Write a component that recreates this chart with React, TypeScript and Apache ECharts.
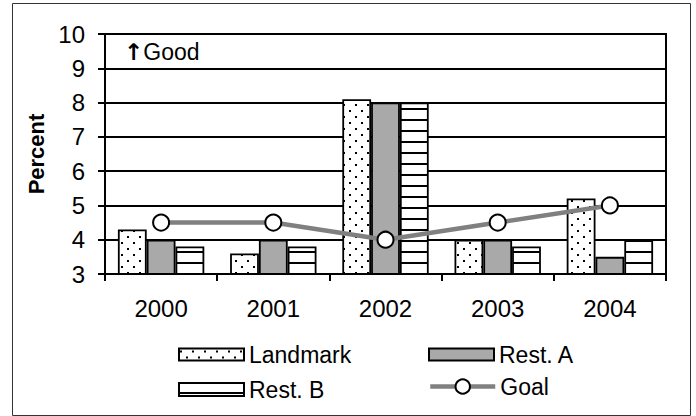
import React, { useEffect, useRef } from "react";
import * as echarts from "echarts";

const categories = ["2000", "2001", "2002", "2003", "2004"];
const landmark = [4.3, 3.6, 8.1, 4.0, 5.2];
const restA = [4.0, 4.0, 8.0, 4.0, 3.5];
const restB = [3.8, 3.8, 8.0, 3.8, 4.0];
const goal = [4.5, 4.5, 4.0, 4.5, 5.0];

const FONT = "'Liberation Sans', Arial, sans-serif";

function dotTile(): HTMLCanvasElement {
  const c = document.createElement("canvas");
  c.width = 12;
  c.height = 12;
  const g = c.getContext("2d")!;
  g.fillStyle = "#fff";
  g.fillRect(0, 0, 12, 12);
  g.fillStyle = "#000";
  g.fillRect(1, 2, 2, 2);
  g.fillRect(7, 8, 2, 2);
  return c;
}

function lineTile(): HTMLCanvasElement {
  const c = document.createElement("canvas");
  c.width = 4;
  c.height = 11;
  const g = c.getContext("2d")!;
  g.fillStyle = "#fff";
  g.fillRect(0, 0, 4, 11);
  g.fillStyle = "#000";
  g.fillRect(0, 9, 4, 2);
  return c;
}

export default function App() {
  const ref = useRef<HTMLDivElement>(null);
  useEffect(() => {
    if (!ref.current) return;
    const chart = echarts.init(ref.current, null, { renderer: "svg" });
    const dots = { image: dotTile(), repeat: "repeat" } as any;
    const lines = { image: lineTile(), repeat: "repeat" } as any;
    const legendBase = {
      itemWidth: 65,
      itemHeight: 12,
      itemGap: 5,
      icon: "rect",
      textStyle: { fontFamily: FONT, fontSize: 23, color: "#000" },
      padding: 0,
      selectedMode: false,
    };
    chart.setOption({
      animation: false,
      backgroundColor: "#fff",
      grid: { left: 105, right: 30, top: 34, bottom: 142, show: true, borderColor: "#000", borderWidth: 2, outerBoundsMode: "none" } as any,
      xAxis: {
        type: "category",
        data: categories,
        axisLine: { lineStyle: { color: "#000", width: 2 } },
        axisTick: { show: true, length: 7, interval: 0, lineStyle: { color: "#000", width: 2 } },
        axisLabel: { fontFamily: FONT, fontSize: 24, color: "#000", margin: 22 },
      },
      yAxis: {
        type: "value",
        min: 3,
        max: 10,
        interval: 1,
        name: "Percent",
        nameLocation: "middle",
        nameGap: 55,
        nameTextStyle: { fontFamily: FONT, fontSize: 22, fontWeight: "bold", color: "#000" },
        axisLine: { show: true, lineStyle: { color: "#000", width: 2 } },
        axisTick: { show: true, length: 7, lineStyle: { color: "#000", width: 2 } },
        axisLabel: { fontFamily: FONT, fontSize: 24, color: "#000", margin: 20 },
        splitLine: { lineStyle: { color: "#000", width: 2 } },
      },
      legend: [
        { ...legendBase, left: 178, top: 343, data: ["Landmark"] },
        { ...legendBase, left: 428, top: 343, data: ["Rest. A"] },
        { ...legendBase, left: 178, top: 378, itemHeight: 13, data: ["Rest. B"] },
        {
          ...legendBase,
          icon: undefined,
          left: 428,
          top: 375,
          itemHeight: 18,
          data: ["Goal"],
          lineStyle: { width: 4.5, color: "#808080" },
        },
      ],
      series: [
        {
          name: "Landmark",
          type: "bar",
          data: landmark,
          barGap: "0%",
          barCategoryGap: "23%",
          itemStyle: { color: dots, borderColor: "#000", borderWidth: 1.8 },
        },
        {
          name: "Rest. A",
          type: "bar",
          data: restA,
          itemStyle: { color: "#a9a9a9", borderColor: "#000", borderWidth: 1.8 },
        },
        {
          name: "Rest. B",
          type: "bar",
          data: restB,
          itemStyle: { color: lines, borderColor: "#000", borderWidth: 1.8 },
        },
        {
          name: "Goal",
          type: "line",
          data: goal,
          z: 5,
          symbol: "circle",
          symbolSize: 16,
          lineStyle: { color: "#808080", width: 4.5 },
          itemStyle: { color: "#fff", borderColor: "#000", borderWidth: 2 },
        },
      ],
      graphic: [
        {
          type: "rect",
          shape: { x: 12.5, y: 3.5, width: 678, height: 412 },
          style: { fill: "none", stroke: "#333", lineWidth: 1 },
          silent: true,
        },
        {
          type: "text",
          left: 124,
          top: 40,
          style: {
            text: "{a|↑}Good",
            font: `23px ${FONT}`,
            fill: "#000",
            rich: { a: { fontFamily: "DejaVu Sans", fontWeight: "bold", fontSize: 23, fill: "#000" } },
          },
        },
      ],
    });
    return () => chart.dispose();
  }, []);
  return <div ref={ref} style={{ position: "fixed", left: 0, top: 0, width: 696, height: 416 }} />;
}
